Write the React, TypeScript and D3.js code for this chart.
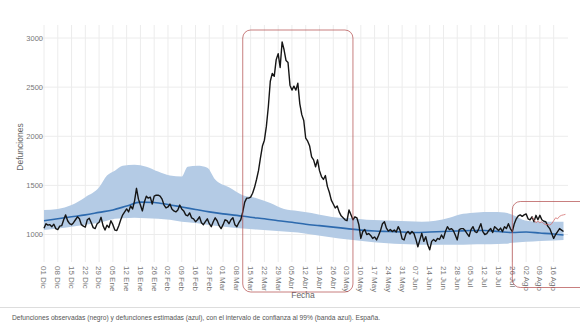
import React from 'react';
import * as d3 from 'd3';

const START = new Date(2019, 11, 1);

// Observed daily deaths (black), Dec 1 2019 .. Aug 21 2020
const observed = [
  1063,1110,1095,1100,1080,1105,1060,1050,1085,1090,
  1150,1200,1140,1110,1100,1120,1150,1180,1160,1100,
  1085,1075,1150,1165,1120,1070,1060,1110,1125,1175,
  1090,1045,1095,1070,1140,1100,1045,1040,1090,1150,
  1200,1230,1260,1230,1290,1260,1340,1470,1360,1300,
  1240,1330,1390,1370,1380,1310,1390,1400,1400,1390,
  1360,1300,1270,1280,1310,1260,1240,1230,1250,1300,
  1260,1240,1200,1190,1220,1170,1160,1130,1150,1180,
  1120,1100,1130,1160,1110,1080,1130,1170,1140,1090,
  1060,1100,1150,1140,1110,1150,1170,1100,1080,1120,
  1150,1230,1330,1370,1370,1380,1420,1480,1560,1650,
  1780,1900,1960,2100,2300,2560,2640,2610,2780,2840,
  2700,2960,2880,2770,2750,2520,2470,2510,2470,2540,
  2330,2220,2160,1980,1950,1900,1790,1760,1690,1760,
  1650,1590,1560,1600,1490,1430,1350,1310,1270,1290,
  1230,1190,1170,1150,1140,1250,1200,1150,1180,1170,
  1100,960,1030,1050,1000,1010,990,960,975,945,
  990,1040,1110,1130,1065,1035,1050,1030,1045,1025,
  1080,1040,955,945,1010,1030,1005,1030,1010,950,
  875,945,1012,930,978,895,845,930,950,930,
  960,950,995,960,1030,1080,1050,1060,1040,995,
  945,1050,1060,1060,1040,1010,980,1050,1080,1030,
  1020,1060,1110,1030,1000,1010,1040,1060,1020,1080,
  1060,1040,1065,1030,1080,1060,1110,1060,1030,1110,
  1160,1190,1200,1185,1200,1210,1160,1150,1180,1130,
  1195,1150,1195,1150,1135,1130,1085,1060,1010,960,
  1000,1030,1060,1045,1030,
];

// Estimated deaths (blue line), day offsets from Dec 1
const expectedDays = [0,7,14,21,28,35,42,49,56,63,70,77,84,91,98,105,112,119,126,133,140,147,154,161,168,175,182,189,196,203,210,217,224,231,238,245,252,259,264];
const expected = [1140,1160,1180,1200,1225,1250,1290,1330,1325,1305,1280,1255,1230,1210,1195,1175,1160,1140,1125,1105,1090,1075,1060,1045,1035,1030,1025,1020,1025,1030,1035,1040,1040,1030,1020,1025,1015,1005,995];

// 99% confidence band
const bandDays = [0,7,14,21,28,32,36,40,46,52,58,64,70,73,78,83,87,94,101,108,115,122,129,136,143,150,157,164,171,178,185,192,199,206,213,220,227,234,238,245,252,259,264];
const bandLower = [1045,1060,1080,1100,1120,1140,1160,1165,1170,1165,1160,1150,1130,1125,1115,1100,1090,1075,1060,1050,1040,1030,1020,1000,980,960,945,930,915,905,900,895,895,895,895,900,900,905,915,925,935,940,945];
const bandUpper = [1250,1260,1300,1380,1480,1600,1650,1700,1710,1690,1640,1600,1590,1690,1700,1680,1560,1480,1400,1370,1320,1260,1240,1220,1190,1170,1165,1150,1145,1140,1135,1130,1140,1170,1210,1225,1230,1225,1200,1140,1130,1130,1130];

// Thin red line at the end
const redStartDay = 248;
const redValues = [1180,1150,1120,1135,1120,1130,1110,1100,1105,1095,1110,1140,1170,1160,1185,1195,1200,1205];

const yTicks = [1000, 1500, 2000, 2500, 3000];
const monthAbbr = ['Ene','Feb','Mar','Abr','May','Jun','Jul','Ago','Sep','Oct','Nov','Dic'];
const yAxisTitle = 'Defunciones';
const xAxisTitle = 'Fecha';
const caption = 'Defunciones observadas (negro) y defunciones estimadas (azul), con el intervalo de confianza al 99% (banda azul). España.';

const day = (d: number) => d3.timeDay.offset(START, d);

export default function App() {
  const W = 580, H = 329;
  const x = d3.scaleTime().domain([day(0), day(264)]).range([44, 563.5]);
  const y = d3.scaleLinear().domain([1000, 3000]).range([234.5, 38]);

  const ticks = d3.timeWeek.every(1)!.range(day(0), day(265));
  const fmt = (d: Date) => `${String(d.getDate()).padStart(2, '0')} ${monthAbbr[d.getMonth()]}`;

  const obsLine = d3.line<number>().x((_, i) => x(day(i))).y((v) => y(v));
  const expLine = d3.line<number>().x((_, i) => x(day(expectedDays[i]))).y((v) => y(v)).curve(d3.curveMonotoneX);
  const band = d3.area<number>()
    .x((_, i) => x(day(bandDays[i])))
    .y0((_, i) => y(bandLower[i]))
    .y1((_, i) => y(bandUpper[i]))
    .curve(d3.curveMonotoneX);
  const redLine = d3.line<number>().x((_, i) => x(day(redStartDay + i))).y((v) => y(v));

  const font = "'Liberation Sans', Arial, sans-serif";
  const box1x0 = x(day(101)), box1x1 = x(day(157));
  const box2x0 = x(day(238.5));

  return (
    <svg width={W} height={H} style={{ position: 'absolute', left: 0, top: 0, background: '#fff' }} fontFamily={font}>
      {yTicks.map((t) => (
        <line key={'h' + t} x1={40} x2={568} y1={y(t)} y2={y(t)} stroke="#ececec" strokeWidth={1} />
      ))}
      {ticks.map((t) => (
        <line key={'v' + +t} x1={x(t)} x2={x(t)} y1={25} y2={262} stroke="#ececec" strokeWidth={1} />
      ))}
      <path d={band(bandLower) || ''} fill="#b4cbe5" />
      <path d={expLine(expected) || ''} fill="none" stroke="#2d6aae" strokeWidth={1.6} />
      <path d={obsLine(observed) || ''} fill="none" stroke="#151515" strokeWidth={1.4} strokeLinejoin="round" />
      <path d={redLine(redValues) || ''} fill="none" stroke="#d47070" strokeWidth={0.8} />

      {yTicks.map((t) => (
        <text key={'yl' + t} x={43} y={y(t) + 2.5} textAnchor="end" fontSize={7.5} fill="#777">{t}</text>
      ))}
      {ticks.map((t) => (
        <text key={'xl' + +t} transform={`translate(${x(t) - 2.6},266) rotate(90)`} textAnchor="start" fontSize={8} fill="#777">{fmt(t)}</text>
      ))}
      <text transform="translate(23,147) rotate(-90)" textAnchor="middle" fontSize={8.5} fill="#666">{yAxisTitle}</text>
      <text x={303} y={298} textAnchor="middle" fontSize={8.5} fill="#666">{xAxisTitle}</text>

      <rect x={box1x0} y={30} width={box1x1 - box1x0} height={262} rx={8} fill="none" stroke="#b04848" strokeOpacity={0.7} strokeWidth={1} />
      <rect x={box2x0} y={201.5} width={120} height={86} rx={8} fill="none" stroke="#b04848" strokeOpacity={0.7} strokeWidth={1} />

      <line x1={0} x2={580} y1={307.5} y2={307.5} stroke="#ddd" strokeWidth={1} />
      <text x={12} y={320} fontSize={6.6} fill="#555" textLength={368} lengthAdjust="spacingAndGlyphs">{caption}</text>
    </svg>
  );
}
